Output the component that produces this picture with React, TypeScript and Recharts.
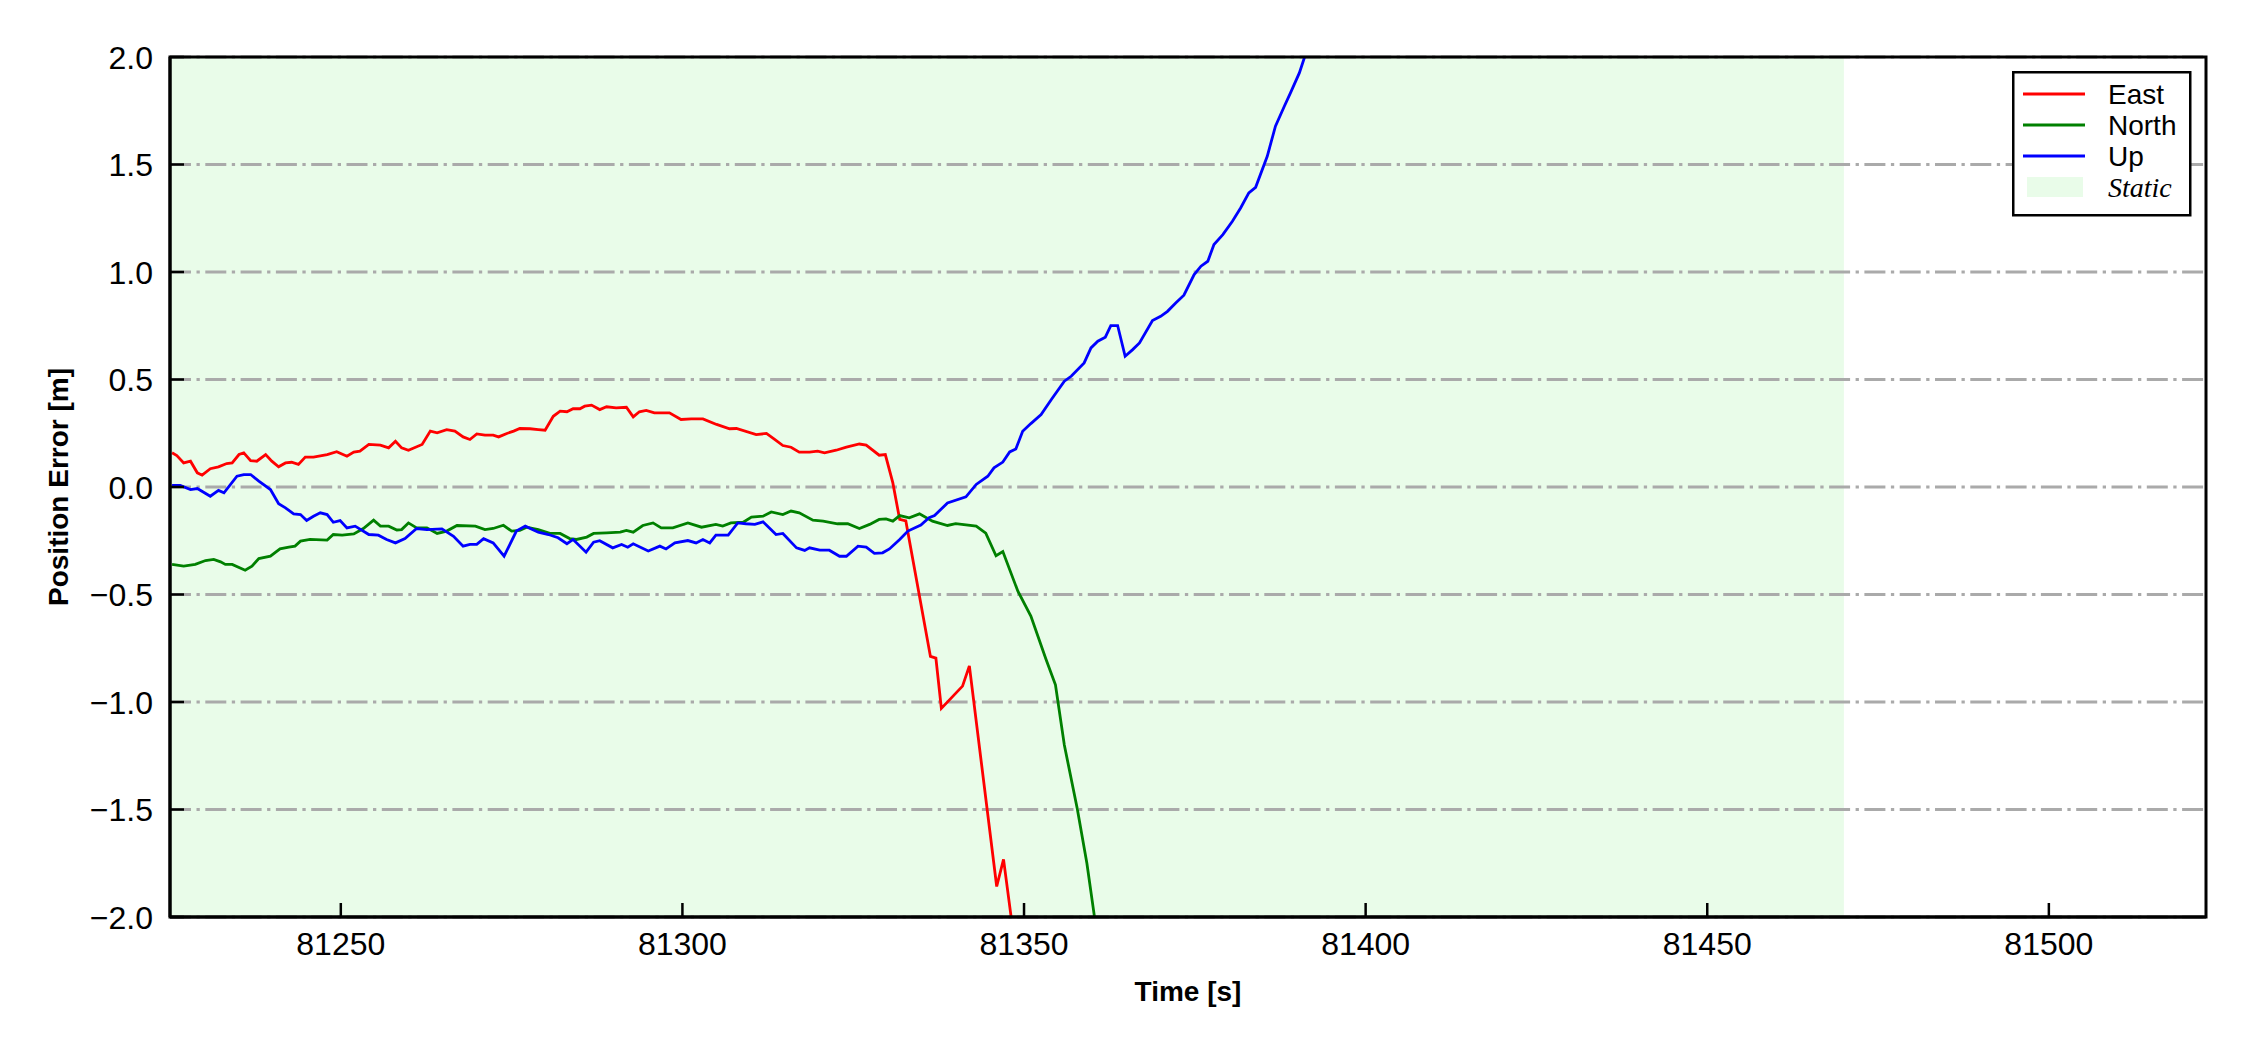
import React from 'react';
import { LineChart, Line, XAxis, YAxis, CartesianGrid, ReferenceArea, Legend } from 'recharts';

const xTicks = [81250, 81300, 81350, 81400, 81450, 81500];
const yTicks = [-2, -1.5, -1, -0.5, 0, 0.5, 1, 1.5, 2];
const xDomain = [81225, 81523];
const yDomain = [-2, 2];
const staticStart = 81225;
const staticEnd = 81470;

const eastTime = [
  81225.3, 81226.0, 81227.0, 81228.0, 81229.0, 81229.7, 81230.9, 81232.1, 81233.3, 81234.1,
  81235.1, 81235.8, 81236.8, 81237.7, 81239.0, 81239.9, 81240.9, 81241.9, 81242.8, 81243.8,
  81244.8, 81246.0, 81248.0, 81249.4, 81250.9, 81251.9, 81252.8, 81254.1, 81255.8, 81257.0,
  81258.0, 81258.9, 81259.9, 81261.9, 81263.1, 81264.1, 81265.5, 81266.7, 81267.9, 81268.9,
  81269.9, 81271.1, 81272.3, 81273.1, 81274.3, 81275.3, 81276.2, 81277.7, 81278.9, 81279.9,
  81281.1, 81282.1, 81283.1, 81284.0, 81285.0, 81285.7, 81286.7, 81287.9, 81288.9, 81290.3,
  81291.8, 81292.8, 81293.7, 81294.7, 81295.9, 81298.1, 81299.8, 81301.3, 81303.0, 81305.0,
  81306.9, 81307.9, 81310.8, 81312.3, 81313.5, 81314.7, 81315.9, 81317.1, 81318.6, 81319.8,
  81320.8, 81322.5, 81324.0, 81325.9, 81326.9, 81328.8, 81329.7, 81330.8, 81331.8, 81332.7,
  81336.3, 81337.1, 81337.9, 81341.0, 81342.0, 81346.0, 81347.0, 81348.1, 81348.3,
];
const eastError = [
  0.159, 0.146, 0.112, 0.120, 0.066, 0.055, 0.085, 0.094, 0.109, 0.112,
  0.151, 0.159, 0.123, 0.120, 0.151, 0.120, 0.094, 0.112, 0.115, 0.105,
  0.139, 0.139, 0.151, 0.164, 0.143, 0.162, 0.167, 0.198, 0.195, 0.182,
  0.213, 0.182, 0.171, 0.198, 0.260, 0.252, 0.267, 0.260, 0.233, 0.221,
  0.247, 0.241, 0.241, 0.233, 0.249, 0.260, 0.272, 0.271, 0.267, 0.264,
  0.329, 0.353, 0.350, 0.364, 0.364, 0.376, 0.381, 0.360, 0.373, 0.368,
  0.371, 0.326, 0.350, 0.356, 0.345, 0.345, 0.314, 0.317, 0.317, 0.291,
  0.271, 0.272, 0.244, 0.249, 0.221, 0.193, 0.185, 0.162, 0.162, 0.167,
  0.159, 0.171, 0.185, 0.200, 0.195, 0.148, 0.151, 0.019, -0.151, -0.158,
  -0.788, -0.796, -1.030, -0.926, -0.832, -1.858, -1.732, -1.997, -2.05,
];

const northTime = [
  81225.3, 81227.0, 81228.7, 81230.2, 81231.4, 81232.4, 81233.1, 81234.1, 81236.0, 81237.0,
  81238.0, 81239.7, 81241.1, 81242.4, 81243.3, 81244.1, 81245.5, 81248.0, 81248.9, 81250.2,
  81251.9, 81253.3, 81254.8, 81255.8, 81257.0, 81258.2, 81258.9, 81259.9, 81261.1, 81262.6,
  81264.1, 81265.5, 81267.0, 81269.7, 81271.1, 81272.3, 81273.8, 81275.0, 81276.2, 81277.2,
  81278.9, 81280.6, 81282.1, 81283.5, 81284.5, 81286.0, 81287.0, 81288.9, 81290.9, 81291.8,
  81292.8, 81294.2, 81295.7, 81296.9, 81298.6, 81300.8, 81302.8, 81304.9, 81305.9, 81307.1,
  81308.9, 81310.1, 81311.8, 81313.0, 81314.7, 81315.9, 81317.1, 81319.1, 81320.6, 81322.7,
  81324.2, 81325.9, 81327.4, 81328.8, 81329.8, 81330.8, 81331.8, 81333.2, 81334.7, 81336.6,
  81338.8, 81340.0, 81343.0, 81344.4, 81345.9, 81346.9, 81349.1, 81351.0, 81353.2, 81354.6,
  81355.9, 81357.8, 81359.2, 81360.3, 81360.5,
];
const northError = [
  -0.360, -0.368, -0.360, -0.342, -0.337, -0.348, -0.360, -0.360, -0.387, -0.368,
  -0.333, -0.322, -0.288, -0.280, -0.275, -0.252, -0.244, -0.247, -0.221, -0.224,
  -0.218, -0.193, -0.154, -0.182, -0.182, -0.200, -0.198, -0.167, -0.190, -0.190,
  -0.216, -0.205, -0.179, -0.182, -0.198, -0.193, -0.178, -0.205, -0.202, -0.187,
  -0.198, -0.216, -0.216, -0.240, -0.244, -0.233, -0.216, -0.213, -0.210, -0.202,
  -0.210, -0.179, -0.167, -0.190, -0.190, -0.167, -0.187, -0.174, -0.182, -0.167,
  -0.164, -0.140, -0.136, -0.116, -0.128, -0.112, -0.120, -0.154, -0.159, -0.171,
  -0.171, -0.193, -0.174, -0.151, -0.148, -0.159, -0.133, -0.143, -0.125, -0.159,
  -0.179, -0.170, -0.182, -0.215, -0.320, -0.300, -0.485, -0.600, -0.800, -0.920,
  -1.200, -1.498, -1.750, -1.997, -2.05,
];

const upTime = [
  81225.3, 81226.5, 81228.0, 81229.0, 81230.9, 81232.1, 81232.9, 81234.8, 81235.8, 81236.8,
  81238.0, 81239.7, 81240.9, 81241.9, 81243.1, 81244.1, 81245.0, 81246.0, 81247.0, 81248.0,
  81248.9, 81249.9, 81250.9, 81252.1, 81254.1, 81255.5, 81256.7, 81258.0, 81259.4, 81261.1,
  81262.6, 81264.8, 81266.5, 81267.9, 81268.9, 81269.9, 81270.9, 81272.3, 81273.9, 81275.7,
  81277.0, 81278.9, 81280.4, 81281.8, 81283.1, 81284.0, 81285.9, 81287.0, 81287.9, 81289.8,
  81291.1, 81292.0, 81292.8, 81295.0, 81296.7, 81297.6, 81298.9, 81300.8, 81302.0, 81303.0,
  81304.0, 81304.9, 81306.7, 81308.1, 81309.3, 81310.6, 81311.8, 81313.7, 81314.7, 81316.7,
  81317.9, 81318.6, 81320.1, 81321.5, 81323.0, 81324.0, 81325.7, 81326.9, 81328.1, 81329.3,
  81330.3, 81331.8, 81333.0, 81334.9, 81336.1, 81336.9, 81338.8, 81341.5, 81343.0, 81344.7,
  81345.6, 81346.9, 81347.9, 81348.8, 81349.8, 81351.0, 81352.5, 81354.0, 81355.9, 81356.9,
  81358.8, 81359.8, 81360.8, 81361.9, 81362.7, 81363.7, 81364.8, 81365.9, 81366.9, 81368.8,
  81370.0, 81371.0, 81372.2, 81373.4, 81374.9, 81375.9, 81376.9, 81377.8, 81379.1, 81380.5,
  81381.7, 81382.9, 81383.9, 81385.6, 81386.8, 81388.1, 81389.0, 81390.3, 81391.1, 81391.4,
];
const upError = [
  0.007, 0.007, -0.012, -0.007, -0.043, -0.016, -0.027, 0.050, 0.058, 0.058,
  0.027, -0.012, -0.078, -0.097, -0.125, -0.128, -0.156, -0.136, -0.120, -0.128,
  -0.164, -0.156, -0.190, -0.182, -0.221, -0.224, -0.244, -0.260, -0.240, -0.193,
  -0.198, -0.195, -0.229, -0.275, -0.267, -0.267, -0.240, -0.260, -0.322, -0.205,
  -0.182, -0.210, -0.221, -0.236, -0.264, -0.244, -0.303, -0.257, -0.250, -0.283,
  -0.267, -0.280, -0.264, -0.298, -0.275, -0.288, -0.260, -0.249, -0.260, -0.244,
  -0.260, -0.224, -0.224, -0.167, -0.171, -0.174, -0.162, -0.221, -0.216, -0.283,
  -0.295, -0.283, -0.294, -0.294, -0.322, -0.322, -0.275, -0.280, -0.309, -0.306,
  -0.288, -0.244, -0.205, -0.177, -0.143, -0.133, -0.074, -0.046, 0.012, 0.050,
  0.089, 0.116, 0.163, 0.177, 0.259, 0.295, 0.337, 0.407, 0.492, 0.515,
  0.577, 0.647, 0.678, 0.697, 0.751, 0.751, 0.608, 0.639, 0.670, 0.774,
  0.794, 0.817, 0.856, 0.892, 0.988, 1.027, 1.050, 1.128, 1.174, 1.236,
  1.298, 1.368, 1.394, 1.538, 1.678, 1.771, 1.833, 1.926, 2.003, 2.05,
];

const legendItems = [
  { name: 'East', color: '#ff0000', kind: 'line' },
  { name: 'North', color: '#008000', kind: 'line' },
  { name: 'Up', color: '#0000ff', kind: 'line' },
  { name: 'Static', color: '#e9fce9', kind: 'patch' },
];

const toData = (ts: number[], vs: number[]) => ts.map((t, i) => ({ t, v: vs[i] }));
const eastData = toData(eastTime, eastError);
const northData = toData(northTime, northError);
const upData = toData(upTime, upError);

const FONT = '"Liberation Sans", Arial, sans-serif';
const STATIC_FILL = '#e9fce9';

const fmtY = (v: number) => {
  const s = Math.abs(v).toFixed(1);
  return v < 0 ? '\u2212' + s : s;
};

const XTick = (props: any) => {
  const { x, y, payload } = props;
  return (
    <g>
      <line x1={x} y1={y} x2={x} y2={y - 14} stroke="#000" strokeWidth={2.5} />
      <text x={x} y={y + 38} textAnchor="middle" fontFamily={FONT} fontSize={32} fill="#000">
        {String(payload.value)}
      </text>
    </g>
  );
};

const YTick = (props: any) => {
  const { x, y, payload } = props;
  return (
    <g>
      <line x1={x} y1={y} x2={x + 14} y2={y} stroke="#000" strokeWidth={2.5} />
      <text x={x - 17} y={y + 11.5} textAnchor="end" fontFamily={FONT} fontSize={32} fill="#000">
        {fmtY(payload.value)}
      </text>
    </g>
  );
};

const XLabel = (props: any) => {
  const vb = props.viewBox || {};
  return (
    <text x={vb.x + vb.width / 2} y={vb.y + 84} textAnchor="middle" fontFamily={FONT} fontWeight="bold" fontSize={28} fill="#000">
      Time [s]
    </text>
  );
};

const YLabel = (props: any) => {
  const vb = props.viewBox || {};
  const cx = vb.x + 68;
  const cy = vb.y + vb.height / 2;
  return (
    <text x={cx} y={cy} transform={`rotate(-90, ${cx}, ${cy})`} textAnchor="middle" fontFamily={FONT} fontWeight="bold" fontSize={28} fill="#000">
      Position Error [m]
    </text>
  );
};

const LegendBox = () => (
  <svg width={180} height={146} style={{ display: 'block' }}>
    <rect x={1.25} y={1.25} width={177} height={143} fill="#fff" stroke="#000" strokeWidth={2.5} />
    {legendItems.map((it, i) => {
      const cy = 23 + i * 31;
      return (
        <g key={it.name}>
          {it.kind === 'line' ? (
            <line x1={11} y1={cy} x2={73} y2={cy} stroke={it.color} strokeWidth={3} />
          ) : (
            <rect x={15} y={cy - 10} width={56} height={20} fill={it.color} />
          )}
          <text
            x={96}
            y={cy + 10}
            fontFamily={it.kind === 'patch' ? '"Liberation Serif", "Times New Roman", serif' : FONT}
            fontStyle={it.kind === 'patch' ? 'italic' : 'normal'}
            fontSize={28}
            fill="#000"
          >
            {it.name}
          </text>
        </g>
      );
    })}
  </svg>
);

export default function App() {
  return (
    <div style={{ position: 'absolute', left: 0, top: 0, width: 2250, height: 1050, background: '#fff' }}>
      <LineChart width={2250} height={1050} margin={{ top: 57, right: 44, bottom: 73, left: 0 }}>
        <ReferenceArea
          x1={staticStart}
          x2={staticEnd}
          y1={yDomain[0]}
          y2={yDomain[1]}
          fill={STATIC_FILL}
          fillOpacity={1}
          stroke="none"
          zIndex={-200}
        />
        <CartesianGrid
          horizontal={true}
          vertical={false}
          stroke="#aaaaaa"
          strokeWidth={3}
          strokeDasharray="21 5.5 3.3 5.5"
          zIndex={-100}
        />
        <XAxis
          dataKey="t"
          type="number"
          domain={xDomain}
          allowDataOverflow
          ticks={xTicks}
          interval={0}
          height={60}
          tickSize={0}
          tickMargin={0}
          tickLine={false}
          axisLine={{ stroke: '#000', strokeWidth: 3 }}
          tick={<XTick />}
          label={<XLabel />}
        />
        <YAxis
          type="number"
          domain={yDomain}
          allowDataOverflow
          ticks={yTicks}
          interval={0}
          width={170}
          tickSize={0}
          tickMargin={0}
          tickLine={false}
          axisLine={{ stroke: '#000', strokeWidth: 3 }}
          tick={<YTick />}
          label={<YLabel />}
        />
        <Line data={eastData} dataKey="v" name="East" stroke="#ff0000" strokeWidth={2.8} dot={false} isAnimationActive={false} type="linear" />
        <Line data={northData} dataKey="v" name="North" stroke="#008000" strokeWidth={2.8} dot={false} isAnimationActive={false} type="linear" />
        <Line data={upData} dataKey="v" name="Up" stroke="#0000ff" strokeWidth={2.8} dot={false} isAnimationActive={false} type="linear" />
        <ReferenceArea
          x1={xDomain[0]}
          x2={xDomain[1]}
          y1={yDomain[0]}
          y2={yDomain[1]}
          fill="none"
          stroke="#000"
          strokeWidth={3}
          zIndex={700}
        />
        <Legend
          layout="vertical"
          align="center"
          verticalAlign="middle"
          content={() => <LegendBox />}
          wrapperStyle={{ position: 'absolute', left: 2012, top: 71, width: 180, height: 146 }}
        />
      </LineChart>
    </div>
  );
}
